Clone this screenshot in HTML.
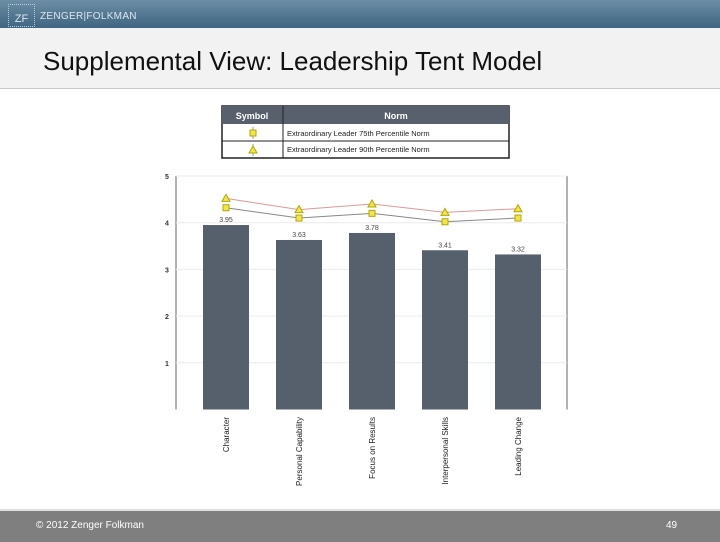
<!DOCTYPE html>
<html><head><meta charset="utf-8"><style>
body{margin:0;width:720px;height:540px;overflow:hidden;background:#fff;font-family:"Liberation Sans",sans-serif;position:relative}
#hdr{position:absolute;left:0;top:0;width:720px;height:28px;background:linear-gradient(#6d8ea5,#3e6581)}
#titlebar{position:absolute;left:0;top:28px;width:720px;height:60px;background:#f2f2f2;border-bottom:1px solid #c8c8c8}
#title{position:absolute;left:43px;top:46px;font-size:26px;color:#111;white-space:nowrap}
#foot{position:absolute;left:0;top:509px;width:720px;height:31px;background:#7f7f7f;border-top:2px solid #e0e0e0}
</style></head><body>
<div id="hdr">
<div style="position:absolute;left:8px;top:4px;width:25px;height:21px;border:1px dotted #b9cbd8;color:#dce6ee;font-size:11px;line-height:28px;text-align:center">ZF</div>
<div style="position:absolute;left:40px;top:11px;color:#dce6ee;font-size:10px;letter-spacing:0.3px">ZENGER|FOLKMAN</div>
</div>
<div id="titlebar"></div>
<div id="title">Supplemental View: Leadership Tent Model</div>
<div id="foot">
<div style="position:absolute;left:36px;top:9px;color:#fff;font-size:10px">© 2012 Zenger Folkman</div>
<div style="position:absolute;left:666px;top:9px;color:#fff;font-size:10px">49</div>
</div>
<svg id="chart" width="720" height="540" style="position:absolute;left:0;top:0"></svg>
<script>
const categories=["Character","Personal Capability","Focus on Results","Interpersonal Skills","Leading Change"];
const scores=[3.95,3.63,3.78,3.41,3.32];
const scoreLabels=["3.95","3.63","3.78","3.41","3.32"];
const norm75=[4.32,4.1,4.2,4.02,4.1];
const norm90=[4.52,4.28,4.4,4.22,4.3];
const yTicks=[1,2,3,4,5];
const NS="http://www.w3.org/2000/svg";
const svg=document.getElementById('chart');
const L=176,R=567,T=176,B=409.5;
const y=v=>B-(v/5)*(B-T);
const step=73;
const x=i=>226+step*i;
function mk(t,a,p){const e=document.createElementNS(NS,t);for(const k in a)e.setAttribute(k,a[k]);(p||svg).appendChild(e);return e;}
const lg=mk('g',{});


mk('rect',{x:222,y:106,width:287,height:52,fill:'#fff',stroke:'#222','stroke-width':1.5},lg);
mk('rect',{x:222,y:106,width:287,height:18,fill:'#57606c'},lg);
mk('line',{x1:283,y1:106,x2:283,y2:158,stroke:'#222'},lg);
mk('line',{x1:222,y1:141,x2:509,y2:141,stroke:'#222'},lg);
let t=mk('text',{x:252,y:119,'font-size':9,'font-weight':'bold',fill:'#fff','text-anchor':'middle'},lg);t.textContent='Symbol';
t=mk('text',{x:396,y:119,'font-size':9,'font-weight':'bold',fill:'#fff','text-anchor':'middle'},lg);t.textContent='Norm';
t=mk('text',{x:287,y:136,'font-size':7.5,fill:'#222'},lg);t.textContent='Extraordinary Leader 75th Percentile Norm';
t=mk('text',{x:287,y:152,'font-size':7.5,fill:'#222'},lg);t.textContent='Extraordinary Leader 90th Percentile Norm';
mk('line',{x1:253,y1:127,x2:253,y2:139,stroke:'#999'},lg);
mk('rect',{x:250,y:130,width:6,height:6,fill:'#f0e64a',stroke:'#b0a800'},lg);
mk('line',{x1:253,y1:144,x2:253,y2:156,stroke:'#999'},lg);
mk('polygon',{points:'253,146 249,153 257,153',fill:'#f0e64a',stroke:'#b0a800'},lg);
mk('line',{x1:L,y1:T,x2:L,y2:B,stroke:'#666'});
mk('line',{x1:R,y1:T,x2:R,y2:B,stroke:'#666'});
yTicks.forEach(v=>{
 const g=mk('line',{x1:L,y1:y(v),x2:R,y2:y(v),stroke:'#ececec'});
 
 
 const tx=mk('text',{x:167,y:y(v)+3,'font-size':7,'font-weight':'bold',fill:'#333','text-anchor':'middle'});
 
 
 tx.textContent=v;
});
const bw=46;
categories.forEach((c,i)=>{
 const b=mk('rect',{x:x(i)-bw/2,y:y(scores[i]),width:bw,height:B-y(scores[i]),fill:'#56606c'});
 
 
 const lb=mk('text',{x:x(i),y:y(scores[i])-3,'font-size':7,fill:'#444','text-anchor':'middle'});
 
 
 lb.textContent=scoreLabels[i];
 const cx=x(i)+3;
 const cl=mk('text',{transform:`translate(${cx},417) rotate(-90)`,'font-size':8,fill:'#222','text-anchor':'end'});
 
 
 cl.textContent=c;
});
const p90=mk('polyline',{points:norm90.map((v,i)=>x(i)+','+y(v)).join(' '),fill:'none',stroke:'#d99a9a','stroke-width':1});


const p75=mk('polyline',{points:norm75.map((v,i)=>x(i)+','+y(v)).join(' '),fill:'none',stroke:'#888','stroke-width':1});


norm90.forEach((v,i)=>{const px=x(i),py=y(v);
 const m=mk('polygon',{points:`${px},${py-4} ${px-4},${py+3} ${px+4},${py+3}`,fill:'#f0e64a',stroke:'#b0a800'});
 
 });
norm75.forEach((v,i)=>{const px=x(i),py=y(v);
 const m=mk('rect',{x:px-3,y:py-3,width:6,height:6,fill:'#f0e64a',stroke:'#b0a800'});
 
 });
</script>
</body></html>
